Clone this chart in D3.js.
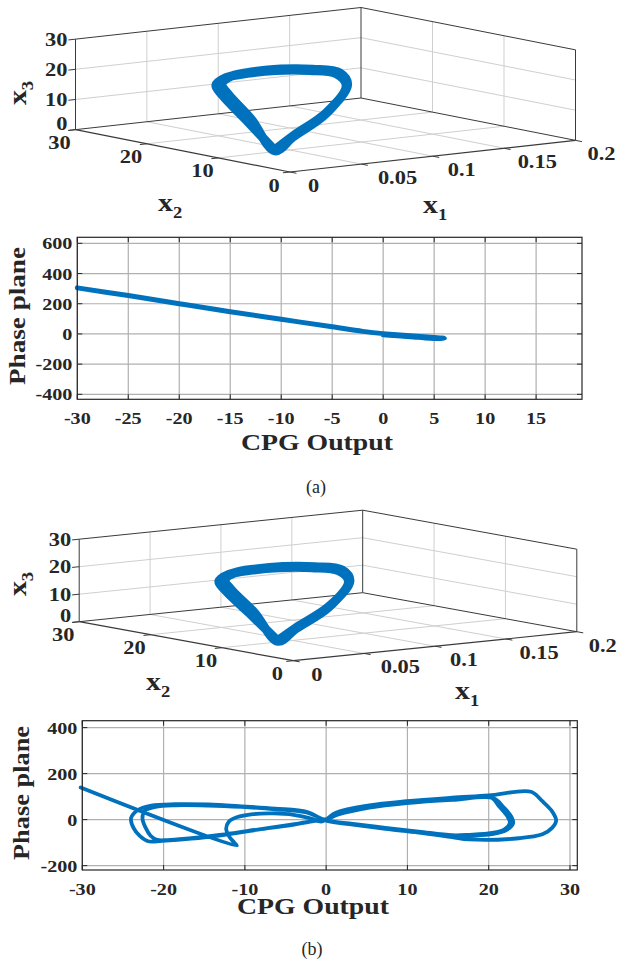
<!DOCTYPE html>
<html><head><meta charset="utf-8">
<script src="https://cdn.jsdelivr.net/npm/d3@7"></script>
<style>body{margin:0;background:#fff}svg{display:block}</style>
</head><body>
<svg id="chart" width="619" height="965"></svg>
<script>
// ================= DATA =================
// 3-D CPG state trajectory (x1, x2, x3), two laps of the limit cycle
const traj3X1 = [0.029, 0.0567, 0.0685, 0.0678, 0.0758, 0.0869, 0.0944, 0.1093, 0.1206, 0.119, 0.0804, 0.0468,
                 0.031, 0.058, 0.070, 0.070, 0.078, 0.088, 0.096, 0.110, 0.121, 0.118, 0.079, 0.045, 0.029];
const traj3X2 = [7.96, 17.4, 23.1, 23.9, 24.1, 23.0, 20.8, 19.1, 17.6, 15.9, 11.0, 8.9,
                 8.3, 17.0, 22.6, 23.5, 23.8, 22.7, 20.5, 18.8, 17.2, 15.5, 10.7, 8.6, 7.96];
const traj3X3 = [2, 6, 11, 14, 16, 17.5, 19, 19, 18, 15, 10, 5,
                 1.5, 6.5, 11.5, 14.5, 16.5, 18, 19.5, 19.5, 18.5, 15.5, 10.5, 5.5, 2];
const ticks3X1 = [0, 0.05, 0.1, 0.15, 0.2];
const ticks3X1Labels = ["0", "0.05", "0.1", "0.15", "0.2"];
const ticks3X2 = [0, 10, 20, 30];
const ticks3X3 = [0, 10, 20, 30];

// Phase plane (a)
const phaseAX = [-30, -25, -20, -15, -10, -5, -2, 0, 1, 2, 3, 4, 5, 6, 5, 4, 3, 2, 1, 0];
const phaseAY = [305, 254, 200, 147, 97, 47, 17, 2, -3, -8, -13, -18, -23, -29, -30, -26, -20, -15, -10, -6];
const ticksAX = [-30, -25, -20, -15, -10, -5, 0, 5, 10, 15];
const ticksAY = [-400, -200, 0, 200, 400, 600];

// Phase plane (b)
const phaseBX = [-30.2, -11.0, -11.3, -11.9, -12.3, -12.0, -11.0, -9.0, -6.5, -4.0, -2.0, -0.5,
  1.2, 5.3, 9.9, 15.5, 20, 25.2, 26.6, 27.8, 28.3, 27.8, 26.6, 23.7, 17.6, 15.5, 11.4, 7.3, 3.3, 0,
  -2.3, -6.3, -10.4, -14.5, -18.6, -21.5, -23.1, -24, -23.7, -22.9, -21.9, -20.2, -16.6, -12.5, -8.4, -4.3, -1.4, 0.3,
  1.5, 5.3, 9.9, 15.5, 20.3, 21.3, 22.3, 22.6, 21.9, 20.4, 17.6, 15.5, 11.4, 7.3, 3.3, 0,
  -2.3, -6.3, -10.4, -14.5, -18.6, -21, -22.3, -22.6, -22.2, -21.6, -20.8, -19.5, -16.6, -12.5, -8.4, -4.3, -1.4, 0.3,
  1.5, 5.3, 9.9, 15.5, 20.6, 21.8, 22.8, 23, 22.2, 20.6, 17.6, 15.5, 11.4, 7.3, 3.3, 0];
const phaseBY = [140, -113, -100, -75, -40, -10, 10, 24, 27, 21, 6, -8,
  30, 62, 80, 95, 105, 121, 80, 36, -4, -36, -64, -81, -86, -76, -56, -40, -22, -5,
  33, 48, 58, 66, 67, 61, 43, 7, -36, -72, -94, -92, -83, -66, -44, -24, -6, 4,
  25, 55, 74, 88, 96, 57, 14, -14, -43, -58, -66, -68, -52, -36, -18, -3,
  30, 45, 55, 61, 62, 55, 38, 5, -36, -70, -88, -89, -80, -64, -43, -22, -5, 5,
  22, 52, 72, 86, 93, 55, 12, -16, -45, -62, -70, -72, -55, -38, -20, -4];
const ticksBX = [-30, -20, -10, 0, 10, 20, 30];
const ticksBY = [-200, 0, 200, 400];

// ================= DRAWING =================
const svg = d3.select("#chart");
const FONT = "'Liberation Serif','Times New Roman',Times,serif";
const BLUE = "#0072bd";
const INK = "#262626";

function txt(g, x, y, s, o = {}) {
  const size = o.size || 17.5;
  const t = g.append("text")
    .attr("transform", `translate(${x},${y}) rotate(${o.rot || 0}) scale(${o.sx || 1.15},${o.sy || 1})`)
    .attr("font-family", FONT)
    .attr("font-weight", o.weight || "bold")
    .attr("font-size", size)
    .attr("text-anchor", o.anchor || "middle")
    .attr("fill", INK);
  if (o.sub !== undefined) {
    t.append("tspan").text(s);
    t.append("tspan").attr("font-size", size * 0.62).attr("dy", size * 0.28).text(o.sub);
  } else t.text(s);
  if (o.len) t.attr("textLength", o.len).attr("lengthAdjust", "spacingAndGlyphs");
  return t;
}

// ---------- 3-D panel ----------
function draw3D(L) {
  const g = svg.append("g");
  const s1 = d3.scaleLinear().domain([0, 0.2]).range([0, 1]);
  const s2 = d3.scaleLinear().domain([0, 30]).range([0, 1]);
  const s3 = d3.scaleLinear().domain([0, 30]).range([0, L.H]);
  const P = (x1, x2, x3) => [
    L.F[0] + L.A[0] * s1(x1) + L.B[0] * s2(x2),
    L.F[1] + L.A[1] * s1(x1) + L.B[1] * s2(x2) - s3(x3)
  ];
  const seg = (p, q, col, w) => g.append("line")
    .attr("x1", p[0]).attr("y1", p[1]).attr("x2", q[0]).attr("y2", q[1])
    .attr("stroke", col).attr("stroke-width", w);
  const GRID = "#cfcfcf";
  const x1in = ticks3X1.slice(1, -1), x2in = ticks3X2.slice(1, -1), x3in = ticks3X3.slice(1, -1);
  const x1max = 0.2, x2max = 30, x3max = 30;
  // back wall (x2 = 30)
  x1in.forEach(v => seg(P(v, x2max, 0), P(v, x2max, x3max), GRID, 1));
  x3in.forEach(z => seg(P(0, x2max, z), P(x1max, x2max, z), GRID, 1));
  // right wall (x1 = 0.2)
  x2in.forEach(v => seg(P(x1max, v, 0), P(x1max, v, x3max), GRID, 1));
  x3in.forEach(z => seg(P(x1max, 0, z), P(x1max, x2max, z), GRID, 1));
  // floor
  x1in.forEach(v => seg(P(v, 0, 0), P(v, x2max, 0), GRID, 1));
  x2in.forEach(v => seg(P(0, v, 0), P(x1max, v, 0), GRID, 1));
  // box edges
  const E = "#3a3a3a";
  seg(P(0, x2max, 0), P(0, x2max, x3max), E, 1);
  seg(P(x1max, x2max, 0), P(x1max, x2max, x3max), E, 1);
  seg(P(x1max, 0, 0), P(x1max, 0, x3max), E, 1);
  seg(P(0, x2max, x3max), P(x1max, x2max, x3max), E, 1);
  seg(P(x1max, x2max, x3max), P(x1max, 0, x3max), E, 1);
  seg(P(0, x2max, 0), P(x1max, x2max, 0), E, 1);
  seg(P(x1max, x2max, 0), P(x1max, 0, 0), E, 1);
  seg(P(0, x2max, 0), P(0, 0, 0), E, 1.2);
  seg(P(0, 0, 0), P(x1max, 0, 0), E, 1.2);
  // ticks
  ticks3X3.forEach(z => seg(P(0, x2max, z), P(-0.005, x2max, z), E, 1));
  ticks3X2.forEach(v => seg(P(0, v, 0), P(-0.005, v, 0), E, 1));
  ticks3X1.forEach(v => seg(P(v, 0, 0), P(v, -0.9, 0), E, 1));
  // tick labels
  const TS = 19.5;
  ticks3X3.forEach(z => {
    const p = P(0, x2max, z);
    txt(g, p[0] - 8, p[1] + (z === 0 ? 0 : 6.5), String(z), { anchor: "end", size: TS });
  });
  ticks3X2.forEach(v => {
    const p = P(0, v, 0);
    txt(g, p[0] - 16, p[1] + 19.5, String(v), { size: TS });
  });
  ticks3X1.forEach((v, i) => {
    const p = P(v, 0, 0);
    txt(g, p[0] + 18 - 6 * s1(v), p[1] + 20, ticks3X1Labels[i], { anchor: "start", size: TS });
  });
  // axis titles
  txt(g, L.t3[0], L.t3[1], "x", { sub: "3", rot: -90, size: 26, anchor: "middle" });
  txt(g, L.t2[0], L.t2[1], "x", { sub: "2", size: 26, anchor: "start" });
  txt(g, L.t1[0], L.t1[1], "x", { sub: "1", size: 26, anchor: "start" });
  // trajectory
  const pts = traj3X1.map((v, i) => P(v, traj3X2[i], traj3X3[i]));
  g.append("path")
    .attr("d", d3.line().curve(d3.curveCatmullRomClosed.alpha(0.5))(pts))
    .attr("fill", "none").attr("stroke", BLUE).attr("stroke-width", 9)
    .attr("stroke-linejoin", "round");
}

// ---------- 2-D panel ----------
function draw2D(L, xs, ys, tx, ty, lw) {
  const g = svg.append("g");
  const x = d3.scaleLinear().domain(L.xd).range([L.l, L.r]);
  const y = d3.scaleLinear().domain(L.yd).range([L.b, L.t]);
  const GRID = "#b0b0b0";
  tx.forEach(v => g.append("line").attr("x1", x(v)).attr("x2", x(v)).attr("y1", L.t).attr("y2", L.b)
    .attr("stroke", GRID).attr("stroke-width", 1.2));
  ty.forEach(v => g.append("line").attr("x1", L.l).attr("x2", L.r).attr("y1", y(v)).attr("y2", y(v))
    .attr("stroke", GRID).attr("stroke-width", 1.2));
  const line = d3.line().x(d => x(d[0])).y(d => y(d[1])).curve(d3.curveCatmullRom.alpha(0.5));
  g.append("path").attr("d", line(xs.map((v, i) => [v, ys[i]])))
    .attr("fill", "none").attr("stroke", BLUE).attr("stroke-width", lw)
    .attr("stroke-linejoin", "round").attr("stroke-linecap", "round");
  // box + inward ticks
  g.append("rect").attr("x", L.l).attr("y", L.t).attr("width", L.r - L.l).attr("height", L.b - L.t)
    .attr("fill", "none").attr("stroke", INK).attr("stroke-width", 1.2);
  const tk = 5;
  tx.forEach(v => {
    g.append("line").attr("x1", x(v)).attr("x2", x(v)).attr("y1", L.b).attr("y2", L.b - tk).attr("stroke", INK);
    g.append("line").attr("x1", x(v)).attr("x2", x(v)).attr("y1", L.t).attr("y2", L.t + tk).attr("stroke", INK);
    txt(g, x(v), L.b + 24.5, String(v), { size: 17.5 });
  });
  ty.forEach(v => {
    g.append("line").attr("x1", L.l).attr("x2", L.l + tk).attr("y1", y(v)).attr("y2", y(v)).attr("stroke", INK);
    g.append("line").attr("x1", L.r).attr("x2", L.r - tk).attr("y1", y(v)).attr("y2", y(v)).attr("stroke", INK);
    txt(g, L.l - 5, y(v) + 6, String(v), { anchor: "end", size: 17.5 });
  });
  txt(g, L.xt[0], L.xt[1], "CPG Output", { size: 24, len: 152 / 1.15 });
  txt(g, L.yt[0], L.yt[1], "Phase plane", { size: 24, rot: -90, sx: 1, len: L.ylen });
  txt(g, L.cap[0], L.cap[1], L.capText, { size: 18, weight: "normal", sx: 1 });
}

// ---------- layouts ----------
draw3D({ F: [290, 172], A: [285.5, -31.65], B: [-214.5, -42.35], H: 90.5,
         t3: [26, 93], t2: [158, 211], t1: [423, 213] });
draw2D({ l: 77.3, r: 582, t: 237.3, b: 399.3, xd: [-30, 19.5], yd: [-433, 640],
         xt: [317, 450], yt: [25, 316], ylen: 138, cap: [316, 493], capText: "(a)" },
       phaseAX, phaseAY, ticksAX, ticksAY, 5);
draw3D({ F: [293.3, 660.7], A: [283.5, -29], B: [-214.1, -39], H: 82.5,
         t3: [26, 584], t2: [146, 690], t1: [455, 699] });
draw2D({ l: 82.3, r: 577.3, t: 720.7, b: 870, xd: [-30, 30.9], yd: [-219, 430],
         xt: [313, 914], yt: [29, 793], ylen: 134, cap: [312, 955], capText: "(b)" },
       phaseBX, phaseBY, ticksBX, ticksBY, 3.8);
</script>
</body></html>
